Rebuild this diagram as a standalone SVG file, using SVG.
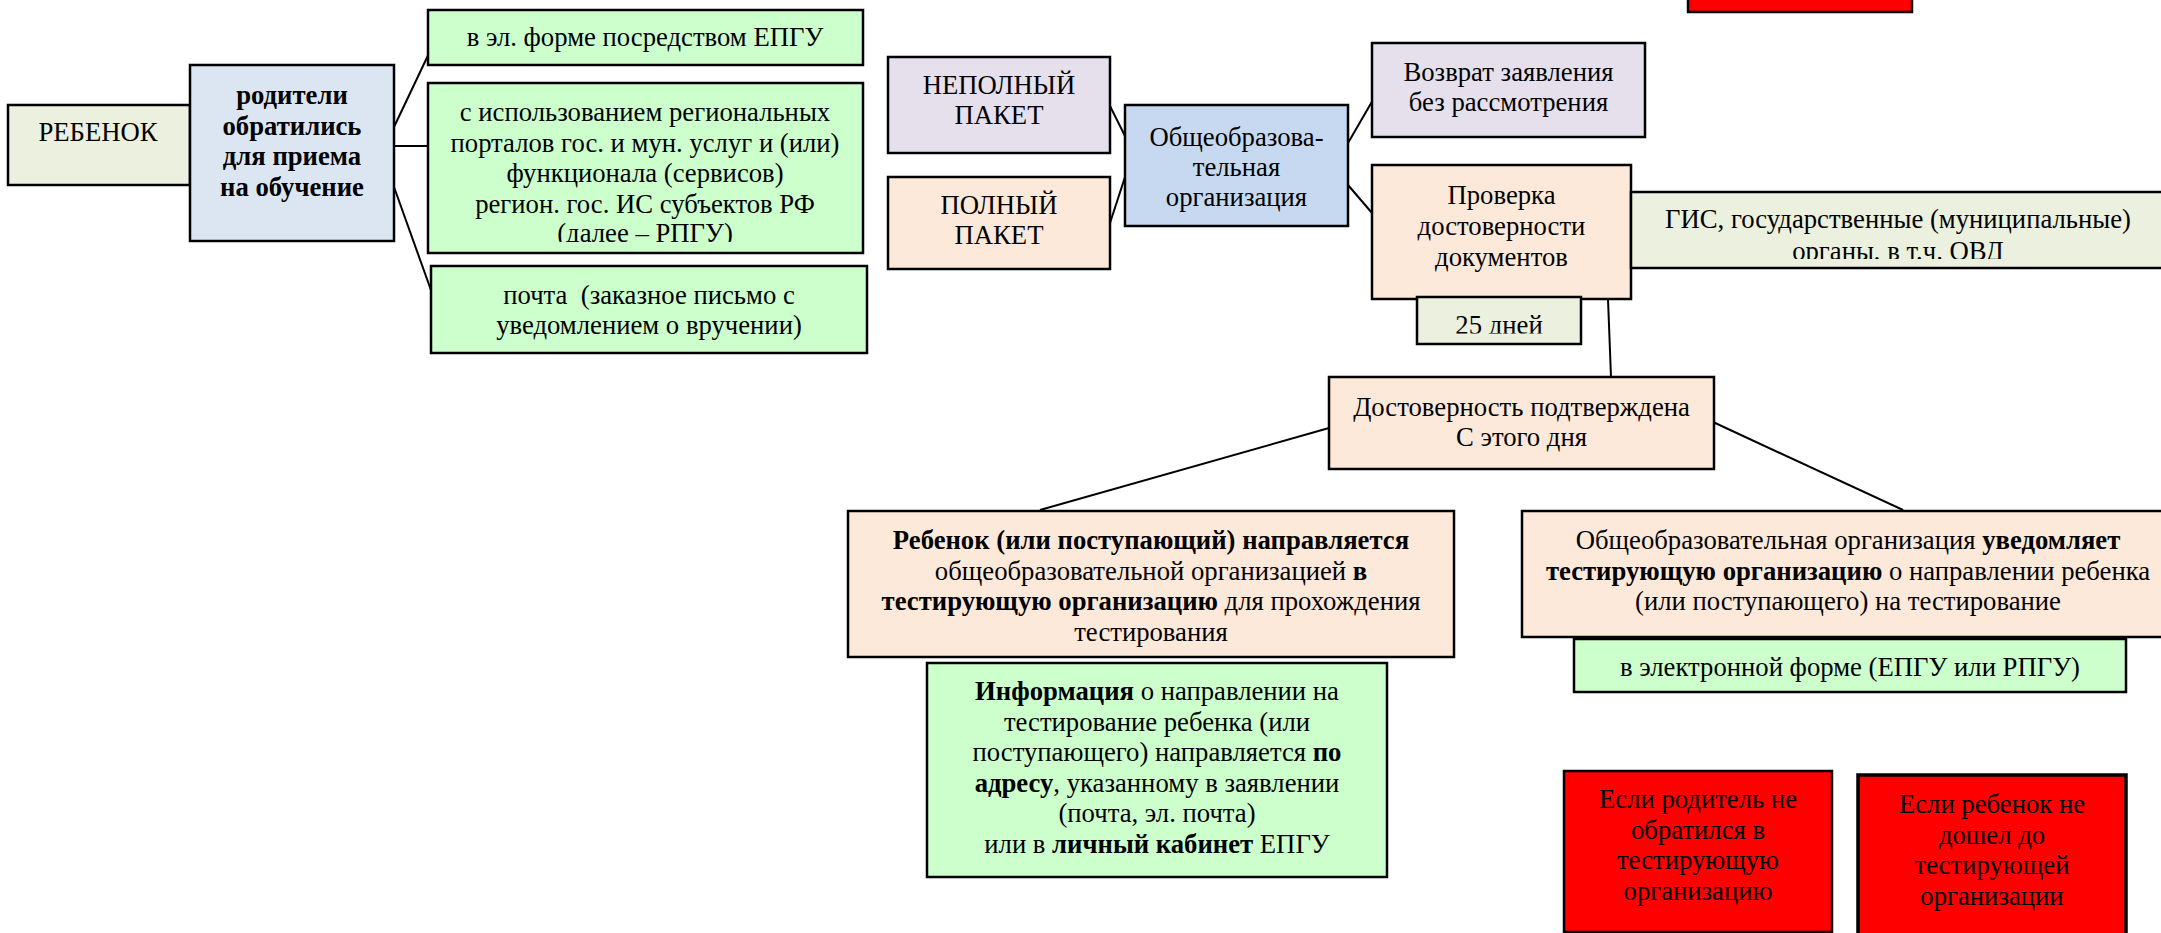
<svg xmlns="http://www.w3.org/2000/svg" width="2161" height="933" viewBox="0 0 2161 933">
<style>
.box{stroke:#000;stroke-width:2.5}
.t{font-family:"Liberation Serif","Times New Roman",serif;font-size:26.7px;fill:#000;text-anchor:middle}
.b{font-weight:bold}
.olive{fill:#EBF1DE}
.lblue{fill:#DCE6F2}
.green{fill:#CCFFCC}
.lav{fill:#E6E0EC}
.peach{fill:#FDE9D9}
.blue{fill:#C6D9F1}
.red{fill:#FF0000}
#connectors line{stroke:#000;stroke-width:2}
</style>
<defs>
<clipPath id="clipRpgu"><rect x="420" y="80" width="450" height="162"/></clipPath>
<clipPath id="clip25"><rect x="1410" y="295" width="180" height="38.5"/></clipPath>
<clipPath id="clipGis"><rect x="1630" y="190" width="531" height="69"/></clipPath>
</defs>
<rect width="2161" height="933" fill="#fff"/>

<g id="connectors">
<line x1="394" y1="127" x2="432" y2="47"/>
<line x1="394" y1="146" x2="428" y2="146"/>
<line x1="394" y1="187" x2="432" y2="293"/>
<line x1="1110" y1="106" x2="1125" y2="136"/>
<line x1="1110" y1="223" x2="1125" y2="177"/>
<line x1="1348" y1="143" x2="1377" y2="93"/>
<line x1="1348" y1="185" x2="1372" y2="213"/>
<line x1="1608" y1="299" x2="1611" y2="377"/>
<line x1="1329" y1="428" x2="1040" y2="510"/>
<line x1="1713" y1="422" x2="1903" y2="510"/>
</g>

<g id="rebenok">
<rect class="box olive" x="8" y="105" width="182" height="80"/>
<text class="t" x="98" y="141">РЕБЕНОК</text>
</g>

<g id="roditeli">
<rect class="box lblue" x="190" y="65" width="204" height="176"/>
<text class="t b" x="292"><tspan x="292" y="104">родители</tspan><tspan x="292" y="134.5">обратились</tspan><tspan x="292" y="165">для приема</tspan><tspan x="292" y="195.5">на обучение</tspan></text>
</g>

<g id="epgu">
<rect class="box green" x="428" y="10" width="435" height="55"/>
<text class="t" x="645" y="46">в эл. форме посредством ЕПГУ</text>
</g>

<g id="rpgu">
<rect class="box green" x="428" y="83" width="435" height="170"/>
<text class="t" clip-path="url(#clipRpgu)"><tspan x="645" y="121">с использованием региональных</tspan><tspan x="645" y="151.5">порталов гос. и мун. услуг и (или)</tspan><tspan x="645" y="182">функционала (сервисов)</tspan><tspan x="645" y="212.5">регион. гос. ИС субъектов РФ</tspan><tspan x="645" y="242">(далее – РПГУ)</tspan></text>
</g>

<g id="pochta">
<rect class="box green" x="431" y="266" width="436" height="87"/>
<text class="t" xml:space="preserve"><tspan x="649" y="304">почта  (заказное письмо с</tspan><tspan x="649" y="334">уведомлением о вручении)</tspan></text>
</g>

<g id="nepolny">
<rect class="box lav" x="888" y="57" width="222" height="96"/>
<text class="t"><tspan x="999" y="94">НЕПОЛНЫЙ</tspan><tspan x="999" y="124">ПАКЕТ</tspan></text>
</g>

<g id="polny">
<rect class="box peach" x="888" y="177" width="222" height="92"/>
<text class="t"><tspan x="999" y="214">ПОЛНЫЙ</tspan><tspan x="999" y="244">ПАКЕТ</tspan></text>
</g>

<g id="oo">
<rect class="box blue" x="1125" y="105" width="223" height="121"/>
<text class="t"><tspan x="1236.5" y="146">Общеобразова-</tspan><tspan x="1236.5" y="176">тельная</tspan><tspan x="1236.5" y="206">организация</tspan></text>
</g>

<g id="vozvrat">
<rect class="box lav" x="1372" y="43" width="273" height="94"/>
<text class="t"><tspan x="1508.5" y="81">Возврат заявления</tspan><tspan x="1508.5" y="111">без рассмотрения</tspan></text>
</g>

<g id="proverka">
<rect class="box peach" x="1372" y="165" width="259" height="134"/>
<text class="t"><tspan x="1501.5" y="204">Проверка</tspan><tspan x="1501.5" y="235">достоверности</tspan><tspan x="1501.5" y="266">документов</tspan></text>
</g>

<g id="days25">
<rect class="box olive" x="1417" y="297" width="164" height="47"/>
<text class="t" x="1499" y="334" clip-path="url(#clip25)">25 дней</text>
</g>

<g id="gis">
<rect class="box olive" x="1631" y="192" width="540" height="76"/>
<text class="t" clip-path="url(#clipGis)"><tspan x="1898" y="228">ГИС, государственные (муниципальные)</tspan><tspan x="1898" y="259.5">органы, в т.ч. ОВД</tspan></text>
</g>

<g id="red-top">
<rect class="box red" x="1688" y="-20" width="224" height="32"/>
</g>

<g id="dostovernost">
<rect class="box peach" x="1329" y="377" width="385" height="92"/>
<text class="t"><tspan x="1521.5" y="416">Достоверность подтверждена</tspan><tspan x="1521.5" y="446">С этого дня</tspan></text>
</g>

<g id="napravlyaetsya">
<rect class="box peach" x="848" y="511" width="606" height="146"/>
<text class="t"><tspan x="1151" y="549" class="b">Ребенок (или поступающий) направляется</tspan><tspan x="1151" y="579.5">общеобразовательной организацией <tspan class="b">в</tspan></tspan><tspan x="1151" y="610"><tspan class="b">тестирующую организацию</tspan> для прохождения</tspan><tspan x="1151" y="640.5">тестирования</tspan></text>
</g>

<g id="info">
<rect class="box green" x="927" y="663" width="460" height="214"/>
<text class="t"><tspan x="1157" y="700"><tspan class="b">Информация</tspan> о направлении на</tspan><tspan x="1157" y="730.5">тестирование ребенка (или</tspan><tspan x="1157" y="761">поступающего) направляется <tspan class="b">по</tspan></tspan><tspan x="1157" y="791.5"><tspan class="b">адресу</tspan>, указанному в заявлении</tspan><tspan x="1157" y="822">(почта, эл. почта)</tspan><tspan x="1157" y="852.5">или в <tspan class="b">личный кабинет</tspan> ЕПГУ</tspan></text>
</g>

<g id="uvedomlyaet">
<rect class="box peach" x="1522" y="511" width="653" height="126"/>
<text class="t"><tspan x="1848" y="549">Общеобразовательная организация <tspan class="b">уведомляет</tspan></tspan><tspan x="1848" y="579.5"><tspan class="b">тестирующую организацию</tspan> о направлении ребенка</tspan><tspan x="1848" y="610">(или поступающего) на тестирование</tspan></text>
</g>

<g id="elektron">
<rect class="box green" x="1574" y="639" width="552" height="53"/>
<text class="t" x="1850" y="676">в электронной форме (ЕПГУ или РПГУ)</text>
</g>

<g id="red-roditel">
<rect class="box red" x="1564" y="771" width="268" height="161"/>
<text class="t"><tspan x="1698" y="808">Если родитель не</tspan><tspan x="1698" y="838.5">обратился в</tspan><tspan x="1698" y="869">тестирующую</tspan><tspan x="1698" y="899.5">организацию</tspan></text>
</g>

<g id="red-rebenok">
<rect class="box red" x="1858" y="775" width="268" height="180" style="stroke-width:3.5"/>
<text class="t"><tspan x="1992" y="813">Если ребенок не</tspan><tspan x="1992" y="843.5">дошел до</tspan><tspan x="1992" y="874">тестирующей</tspan><tspan x="1992" y="904.5">организации</tspan></text>
</g>
</svg>
